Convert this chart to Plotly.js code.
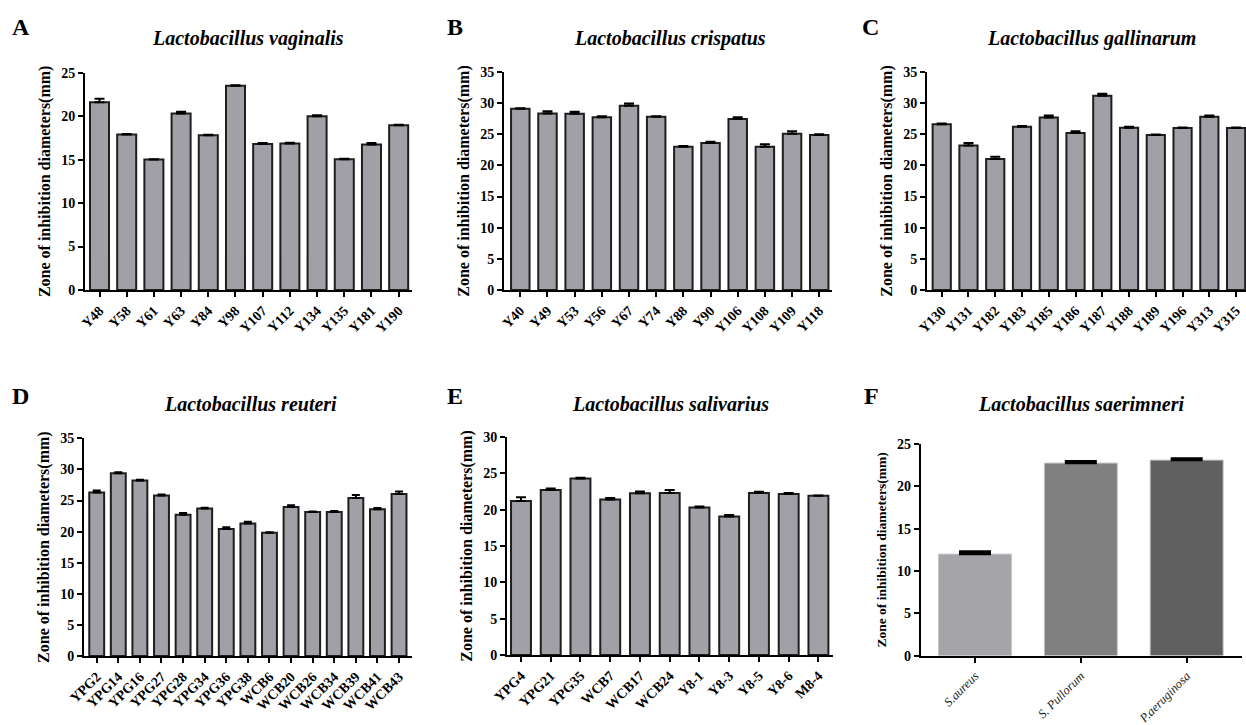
<!DOCTYPE html>
<html>
<head>
<meta charset="utf-8">
<script src="https://cdn.plot.ly/plotly-3.0.1.min.js"></script>
<style>html,body{margin:0;padding:0;background:#fff;overflow:hidden}#chart{width:1246px;height:725px}</style>
</head>
<body>
<div id="chart"></div>
<script>
// ---- Data ----
const catsA = ["Y48","Y58","Y61","Y63","Y84","Y98","Y107","Y112","Y134","Y135","Y181","Y190"];
const valsA = [21.6, 17.9, 15.0, 20.3, 17.8, 23.5, 16.8, 16.85, 20.0, 15.05, 16.75, 18.95];
const errA  = [0.4, 0.05, 0.05, 0.2, 0.05, 0.05, 0.1, 0.1, 0.1, 0.05, 0.15, 0.05];

const catsB = ["Y40","Y49","Y53","Y56","Y67","Y74","Y88","Y90","Y106","Y108","Y109","Y118"];
const valsB = [29.1, 28.35, 28.3, 27.75, 29.6, 27.8, 23.0, 23.6, 27.45, 23.0, 25.1, 24.9];
const errB  = [0.1, 0.35, 0.3, 0.15, 0.35, 0.1, 0.1, 0.2, 0.3, 0.4, 0.4, 0.1];

const catsC = ["Y130","Y131","Y182","Y183","Y185","Y186","Y187","Y188","Y189","Y196","Y313","Y315"];
const valsC = [26.6, 23.2, 21.05, 26.2, 27.7, 25.2, 31.2, 26.05, 24.9, 26.0, 27.8, 26.0];
const errC  = [0.15, 0.4, 0.35, 0.15, 0.3, 0.3, 0.3, 0.15, 0.05, 0.1, 0.2, 0.1];

const catsD = ["YPG2","YPG14","YPG16","YPG27","YPG28","YPG34","YPG36","YPG38","WCB6","WCB20","WCB26","WCB34","WCB39","WCB41","WCB43"];
const valsD = [26.3, 29.4, 28.2, 25.8, 22.7, 23.7, 20.4, 21.3, 19.8, 23.95, 23.15, 23.15, 25.4, 23.6, 26.05];
const errD  = [0.3, 0.15, 0.15, 0.15, 0.3, 0.15, 0.3, 0.3, 0.1, 0.3, 0.1, 0.15, 0.5, 0.2, 0.4];

const catsE = ["YPG4","YPG21","YPG35","WCB7","WCB17","WCB24","Y8-1","Y8-3","Y8-5","Y8-6","M8-4"];
const valsE = [21.2, 22.7, 24.3, 21.4, 22.25, 22.3, 20.3, 19.05, 22.3, 22.15, 21.9];
const errE  = [0.5, 0.2, 0.1, 0.2, 0.25, 0.4, 0.15, 0.2, 0.15, 0.15, 0.05];

const catsF = ["S.aureus","S. Pullorum","P.aeruginosa"];
const valsF = [12.0, 22.75, 23.1];
const errF  = [0.3, 0.2, 0.2];

const panelTitles = ["Lactobacillus vaginalis","Lactobacillus crispatus","Lactobacillus gallinarum",
                     "Lactobacillus reuteri","Lactobacillus salivarius","Lactobacillus saerimneri"];
const panelLetters = ["A","B","C","D","E","F"];
const yTitle = "Zone of inhibition diameters(mm)";

// ---- Styling / layout ----
const SERIF = "'Liberation Serif', 'Times New Roman', serif";
const W = 1246, H = 725;
const barFill = "#a0a0a6";
const barEdge = "#1e1e1e";

function zeros(n){ return new Array(n).fill(0); }

function barTrace(cats, vals, errs, ax, width, colors, edge, edgeW, capW, capT){
  return {
    type: "bar", x: cats, y: vals,
    xaxis: "x" + ax, yaxis: "y" + ax,
    width: width,
    marker: {color: colors, line: {color: edge, width: edgeW}},
    error_y: {type: "data", array: errs, arrayminus: zeros(errs.length), symmetric: false,
              color: "#000", thickness: capT, width: capW},
    hoverinfo: "x+y", showlegend: false
  };
}

const data = [
  barTrace(catsA, valsA, errA, "", 0.7, barFill, barEdge, 2, 5, 2),
  barTrace(catsB, valsB, errB, "2", 0.68, barFill, barEdge, 2, 5, 2),
  barTrace(catsC, valsC, errC, "3", 0.68, barFill, barEdge, 2, 5, 2),
  barTrace(catsD, valsD, errD, "4", 0.69, barFill, barEdge, 2, 4, 2),
  barTrace(catsE, valsE, errE, "5", 0.67, barFill, barEdge, 2, 5, 2),
  barTrace(catsF, valsF, errF, "6", 0.69, ["#a4a4a9","#808080","#606060"], "#c8c8c8", 1, 16, 2.5)
];

// pixel boxes: left, right, top (px of max), bottom (px of 0)
const boxes = [
  {l:85,   r:412,  t:72.7, b:290,   xr:[-0.533, 11.49], yr:[0,25], titleSize:16, lblOff:0},
  {l:504,  r:832,  t:72,   b:290,   xr:[-0.6, 11.47],   yr:[0,35], titleSize:16, lblOff:0},
  {l:927,  r:1246, t:72,   b:290,   xr:[-0.55, 11.37],  yr:[0,35], titleSize:16, lblOff:0},
  {l:84,   r:412,  t:438.3,b:656,   xr:[-0.588, 14.6],  yr:[0,35], titleSize:16, lblOff:0},
  {l:507,  r:833,  t:437,  b:655,   xr:[-0.47, 10.49],  yr:[0,30], titleSize:16, lblOff:0},
  {l:920.7,r:1241.7,t:444, b:655.7, xr:[-0.513, 2.52],  yr:[0,25], titleSize:13.5, lblOff:1}
];

const tickFontBold = {family: SERIF, size: 14, color: "#000", weight: "bold"};

const layout = {
  width: W, height: H,
  margin: {l:0, r:0, t:0, b:0},
  paper_bgcolor: "#fff", plot_bgcolor: "#fff",
  font: {family: SERIF, color: "#000"},
  bargap: 0.3,
  showlegend: false,
  annotations: []
};

boxes.forEach((bx, i) => {
  const s = i === 0 ? "" : String(i + 1);
  const xa = "xaxis" + s, ya = "yaxis" + s;
  layout[xa] = {
    domain: [bx.l / W, bx.r / W], range: bx.xr, anchor: "y" + s,
    type: "category",
    showline: true, linecolor: "#000", linewidth: 2,
    ticks: "outside", ticklen: 5, tickwidth: 2, tickcolor: "#000",
    tickangle: -45, showgrid: false, zeroline: false, fixedrange: true,
    ticklabelstandoff: bx.lblOff, ticklabeloverflow: "allow",
    tickfont: i === 5 ? {family: SERIF, size: 12.5, color: "#222", style: "italic"} : tickFontBold
  };
  layout[ya] = {
    domain: [(H - bx.b) / H, (H - bx.t) / H], range: bx.yr, anchor: "x" + s,
    showline: true, linecolor: "#000", linewidth: 2,
    ticks: "outside", ticklen: 5, tickwidth: 2, tickcolor: "#000",
    dtick: 5, showgrid: false, zeroline: false, fixedrange: true,
    tickfont: tickFontBold,
    title: {text: yTitle, standoff: 7, font: {family: SERIF, size: bx.titleSize, color: "#000", weight: "bold"}}
  };
});

// panel titles and letters
const titlePos = [[248.5,39],[670,39],[1091.7,39],[250,404],[670,404],[1081,404]];
const letterPos = [[21,27],[455,27],[870,27],[20.5,396],[455,396],[871.5,396]];
panelTitles.forEach((t, i) => {
  layout.annotations.push({
    xref: "paper", yref: "paper", x: titlePos[i][0] / W, y: (H - titlePos[i][1]) / H,
    xanchor: "center", yanchor: "middle", showarrow: false,
    text: t, font: {family: SERIF, size: 20, color: "#000", weight: "bold", style: "italic"}
  });
  layout.annotations.push({
    xref: "paper", yref: "paper", x: letterPos[i][0] / W, y: (H - letterPos[i][1]) / H,
    xanchor: "center", yanchor: "middle", showarrow: false,
    text: panelLetters[i], font: {family: SERIF, size: 24, color: "#000", weight: "bold"}
  });
});

Plotly.newPlot("chart", data, layout, {displayModeBar: false, staticPlot: true});
</script>
</body>
</html>
